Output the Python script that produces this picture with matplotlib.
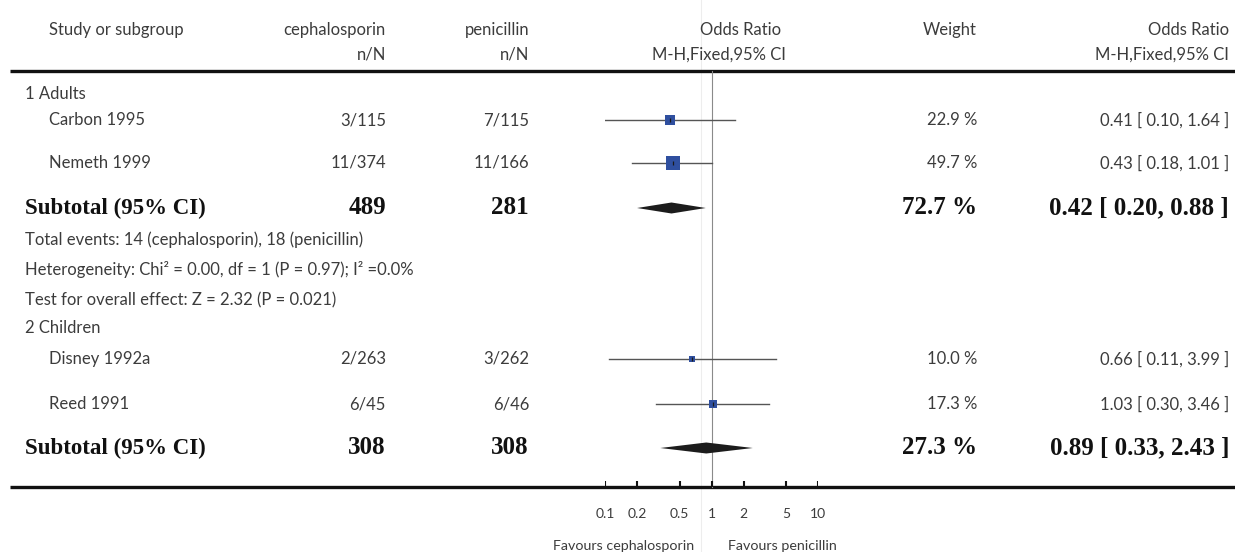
# forest plot: cephalosporin vs penicillin, odds ratios by subgroup
import matplotlib.pyplot as plt
import numpy as np

# study level data
studies = ['Carbon 1995', 'Nemeth 1999', 'Disney 1992a', 'Reed 1991']
ceph = ['3/115', '11/374', '2/263', '6/45']
pen = ['7/115', '11/166', '3/262', '6/46']
or_est = [0.41, 0.43, 0.66, 1.03]
or_lo = [0.10, 0.18, 0.11, 0.30]
or_hi = [1.64, 1.01, 3.99, 3.46]
weights = [22.9, 49.7, 10.0, 17.3]

# subgroup totals
groups = ['1 Adults', '2 Children']
sub_ceph = [489, 308]
sub_pen = [281, 308]
sub_weight = [72.7, 27.3]
sub_est = [0.42, 0.89]
sub_lo = [0.20, 0.33]
sub_hi = [0.88, 2.43]
sub_notes = ['Total events: 14 (cephalosporin), 18 (penicillin)',
             'Heterogeneity: Chi² = 0.00, df = 1 (P = 0.97); I² =0.0%',
             'Test for overall effect: Z = 2.32 (P = 0.021)']

ticks = [0.1, 0.2, 0.5, 1, 2, 5, 10]
tick_labels = ['0.1', '0.2', '0.5', '1', '2', '5', '10']

# layout (pixel rows / columns)
W, H = 1235, 552
study_y = [120, 163, 359, 404]
group_y = [94, 328]
sub_y = [208, 448]
note_y = [240, 270, 300]
top_line, bot_line = 71, 487
x_name, x_group = 49, 25
x_ceph, x_pen, x_wt, x_or = 386, 529, 977, 1229

sans = ['Lato', 'DejaVu Sans']
serif = 'Liberation Serif'
tc = '#3c3c3c'
fs = 12
blue = '#2f4f9f'

fig = plt.figure(figsize=(W / 100, H / 100), dpi=100)
ax = fig.add_axes([0, 0, 1, 1])
ax.set_xlim(0, W)
ax.set_ylim(H, 0)
ax.axis('off')

# forest axes: log scale 0.1..10 over pixel columns 605..818
fx0, fx1 = 605, 818.3
fax = fig.add_axes([fx0 / W, 0, (fx1 - fx0) / W, 1])
fax.set_xscale('log')
fax.set_xlim(0.1, 10)
fax.set_ylim(H, 0)
fax.axis('off')

def txt(x, y, s, ha='left', bold=False, size=None):
    if bold:
        ax.text(x, y, s, ha=ha, va='center', fontsize=size or 16.5, fontweight='bold',
                family=serif, color='#111111')
    else:
        ax.text(x, y, s, ha=ha, va='center', fontsize=size or fs, family=sans,
                color=tc)

# faint guide line
ax.plot([700.5, 700.5], [0, H], color='#ededed', lw=0.8, zorder=0)

# header
txt(x_name, 30, 'Study or subgroup')
txt(x_ceph, 30, 'cephalosporin', ha='right')
txt(x_pen, 30, 'penicillin', ha='right')
txt(781, 30, 'Odds Ratio', ha='right')
txt(x_wt, 30, 'Weight', ha='right')
txt(x_or, 30, 'Odds Ratio', ha='right')
txt(x_ceph, 55, 'n/N', ha='right')
txt(x_pen, 55, 'n/N', ha='right')
txt(786, 55, 'M-H,Fixed,95% CI', ha='right')
txt(x_or, 55, 'M-H,Fixed,95% CI', ha='right')

ax.plot([10, W], [top_line, top_line], color='#111111', lw=2.4, solid_capstyle='butt')
ax.plot([10, W], [bot_line, bot_line], color='#111111', lw=2.4, solid_capstyle='butt')

# study rows
for i in range(len(studies)):
    y = study_y[i]
    txt(x_name, y, studies[i])
    txt(x_ceph, y, ceph[i], ha='right')
    txt(x_pen, y, pen[i], ha='right')
    txt(x_wt, y, '{:.1f} %'.format(weights[i]), ha='right')
    txt(x_or, y, '{:.2f} [ {:.2f}, {:.2f} ]'.format(or_est[i], or_lo[i], or_hi[i]), ha='right')
    fax.plot([or_lo[i], or_hi[i]], [y, y], color='#555555', lw=1.0, zorder=2)
    side = 2.1 * np.sqrt(weights[i]) * 0.72
    fax.scatter([or_est[i]], [y], marker='s', s=side ** 2, color=blue,
                linewidths=0, zorder=3)
    fax.scatter([or_est[i]], [y], marker='|', s=12, color='#1a1a1a',
                linewidths=0.9, zorder=4)

# subgroup rows
for g in range(len(groups)):
    txt(x_group, group_y[g], groups[g])
    y = sub_y[g]
    txt(x_group, y, 'Subtotal (95% CI)', bold=True)
    txt(x_ceph, y, str(sub_ceph[g]), ha='right', bold=True, size=18)
    txt(x_pen, y, str(sub_pen[g]), ha='right', bold=True, size=18)
    txt(x_wt, y, '{:.1f} %'.format(sub_weight[g]), ha='right', bold=True, size=18)
    txt(x_or, y, '{:.2f} [ {:.2f}, {:.2f} ]'.format(sub_est[g], sub_lo[g], sub_hi[g]),
        ha='right', bold=True, size=18)
    fax.fill([sub_lo[g], sub_est[g], sub_hi[g], sub_est[g]],
             [y, y - 5.5, y, y + 5.5], color='#1c1c1c', lw=0, zorder=3)

for j in range(len(sub_notes)):
    txt(x_group, note_y[j], sub_notes[j])

# reference line at OR = 1 and ticks on the bottom rule
fax.plot([1, 1], [top_line, bot_line], color='#8a8a8a', lw=0.8, zorder=1)
for t, lab in zip(ticks, tick_labels):
    fax.plot([t, t], [bot_line - 6, bot_line], color='#111111', lw=1.5,
             solid_capstyle='butt')
    fax.text(t, 514, lab, ha='center', va='center', fontsize=10, family=sans,
             color=tc)

txt(694, 546, 'Favours cephalosporin', ha='right', size=10.3)
txt(728, 546, 'Favours penicillin', size=10.3)

fig.savefig('out.png', dpi=100)
